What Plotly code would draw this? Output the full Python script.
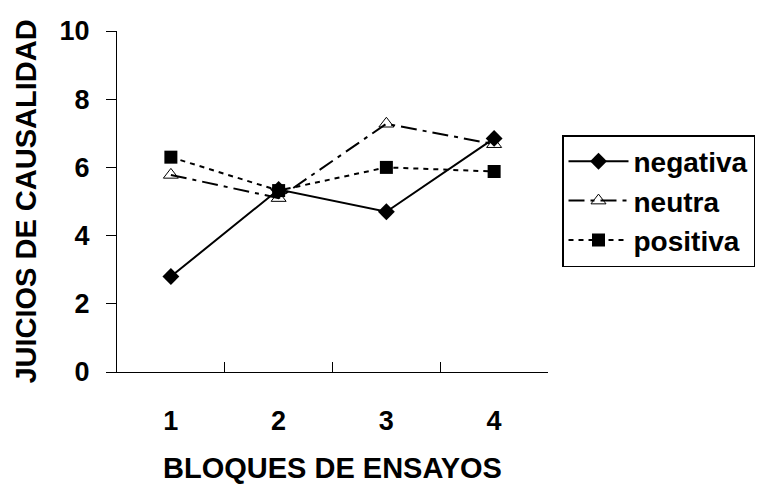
import plotly.graph_objects as go

bloques = ["1", "2", "3", "4"]
negativa = [2.8, 5.35, 4.7, 6.85]
neutra = [5.78, 5.1, 7.28, 6.68]
positiva = [6.3, 5.32, 6.0, 5.88]

FONT = "Liberation Sans, Arial, sans-serif"

fig = go.Figure()
fig.add_trace(go.Scatter(
    x=bloques, y=negativa, name="negativa", mode="lines+markers",
    line=dict(color="black", width=2, dash="solid"),
    marker=dict(symbol="diamond", size=13, color="black"),
))
fig.add_trace(go.Scatter(
    x=bloques, y=neutra, name="neutra", mode="lines+markers",
    line=dict(color="black", width=2, dash="16px,6px,4px,6px"),
    marker=dict(symbol="triangle-up-open", size=13, color="black", line=dict(width=1)),
))
fig.add_trace(go.Scatter(
    x=bloques, y=positiva, name="positiva", mode="lines+markers",
    line=dict(color="black", width=2, dash="5px,5px"),
    marker=dict(symbol="square", size=13, color="black"),
))

fig.update_layout(
    width=760, height=484,
    margin=dict(l=117, r=212, t=31, b=112, autoexpand=False),
    paper_bgcolor="white", plot_bgcolor="white",
    font=dict(family=FONT, size=27, color="black", weight="bold"),
    showlegend=True,
    legend=dict(
        x=1.0325, y=0.695, xanchor="left", yanchor="top",
        bordercolor="black", borderwidth=1.5, bgcolor="white",
        font=dict(family=FONT, size=28, color="black", weight="bold"),
        tracegroupgap=0, itemwidth=60,
    ),
    xaxis=dict(
        type="category", range=[-0.5, 3.5], tickson="boundaries", ticks="inside", ticklen=10,
        tickcolor="black", tickwidth=1, showline=True, linecolor="black", linewidth=1,
        showgrid=False, zeroline=False, ticklabelstandoff=25, automargin=False,
        tickfont=dict(family=FONT, size=27, weight="bold"),
        title=dict(text="BLOQUES DE ENSAYOS", standoff=22,
                   font=dict(family=FONT, size=29, weight="bold")),
    ),
    yaxis=dict(
        range=[0, 10], tickvals=[0, 2, 4, 6, 8, 10], ticks="outside", ticklen=10,
        tickcolor="black", tickwidth=1, showline=True, linecolor="black", linewidth=1,
        showgrid=False, zeroline=False, ticklabelstandoff=11, automargin=False,
        tickfont=dict(family=FONT, size=27, weight="bold"),
        title=dict(text="JUICIOS DE CAUSALIDAD", standoff=14,
                   font=dict(family=FONT, size=29, weight="bold")),
    ),
)

fig.write_html("out.html")
